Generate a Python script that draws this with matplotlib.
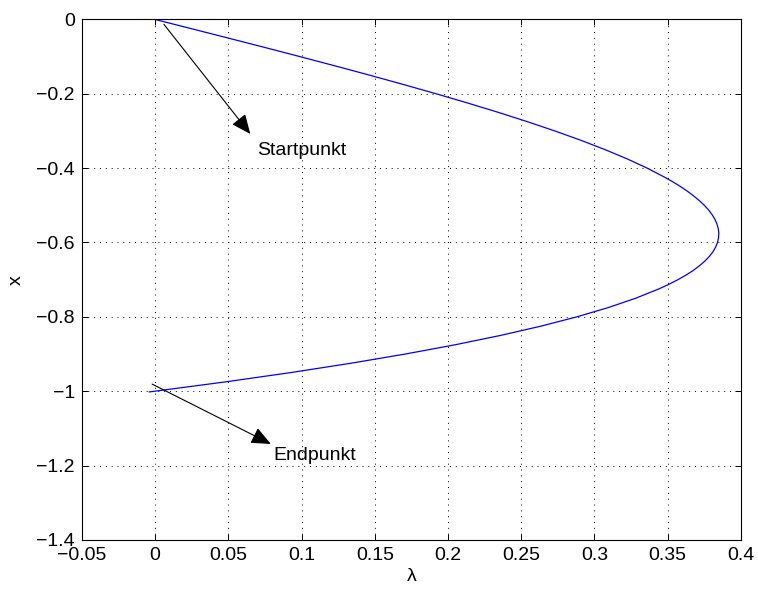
import matplotlib
matplotlib.use("Agg")
import matplotlib.pyplot as plt

# Solution branch: state x against parameter lambda
x_vals = [0.0, -0.025, -0.05, -0.075, -0.1, -0.125, -0.15, -0.175, -0.2, -0.225,
          -0.25, -0.275, -0.3, -0.325, -0.35, -0.375, -0.4, -0.425, -0.4375, -0.45,
          -0.4625, -0.475, -0.4875, -0.5, -0.5125, -0.525, -0.5375, -0.55, -0.5625,
          -0.575, -0.5875, -0.6, -0.6125, -0.625, -0.6375, -0.65, -0.6625, -0.675,
          -0.6875, -0.7, -0.7125, -0.725, -0.75, -0.775, -0.8, -0.825, -0.85,
          -0.875, -0.9, -0.925, -0.95, -0.975, -1.0, -1.002]
lam_vals = [0.0, 0.0250, 0.0499, 0.0746, 0.0990, 0.1230, 0.1466, 0.1696, 0.1920, 0.2136,
            0.2344, 0.2542, 0.2730, 0.2907, 0.3071, 0.3223, 0.3360, 0.3482, 0.3538, 0.3589,
            0.3636, 0.3678, 0.3716, 0.3750, 0.3779, 0.3803, 0.3822, 0.3836, 0.3845,
            0.3849, 0.3847, 0.3840, 0.3827, 0.3809, 0.3784, 0.3754, 0.3717, 0.3675,
            0.3626, 0.3570, 0.3508, 0.3439, 0.3281, 0.3095, 0.2880, 0.2635, 0.2359,
            0.2051, 0.1710, 0.1335, 0.0926, 0.0481, 0.0, -0.004]

x_ticks = [-0.05, 0, 0.05, 0.1, 0.15, 0.2, 0.25, 0.3, 0.35, 0.4]
x_tick_labels = ["\u22120.05", "0", "0.05", "0.1", "0.15", "0.2", "0.25", "0.3", "0.35", "0.4"]
y_ticks = [0, -0.2, -0.4, -0.6, -0.8, -1.0, -1.2, -1.4]
y_tick_labels = ["0", "\u22120.2", "\u22120.4", "\u22120.6", "\u22120.8", "\u22121", "\u22121.2", "\u22121.4"]

# Annotations: (label, arrow tail, arrow head, text position) in data units
annotations = [
    ("Startpunkt", (0.006, -0.013), (0.065, -0.308), (0.070, -0.352)),
    ("Endpunkt", (-0.002, -0.981), (0.079, -1.142), (0.081, -1.174)),
]

plt.rcParams["font.family"] = ["Liberation Sans", "DejaVu Sans"]

fig = plt.figure(figsize=(7.58, 5.90), dpi=100)
ax = fig.add_axes([0.108, 0.085, 0.8695, 0.882])

ax.plot(lam_vals, x_vals, color="#0000ff", linewidth=0.9)

ax.set_xlim(-0.05, 0.4)
ax.set_ylim(-1.4, 0)
ax.set_xticks(x_ticks)
ax.set_xticklabels(x_tick_labels)
ax.set_yticks(y_ticks)
ax.set_yticklabels(y_tick_labels)

ax.grid(True, color="black", linestyle=(0, (1, 5)), linewidth=0.7)
ax.tick_params(direction="in", length=4, width=0.7, top=True, right=True,
               labelsize=14, pad=5)
for s in ax.spines.values():
    s.set_linewidth(0.8)

ax.set_xlabel("\u03bb", fontsize=14, labelpad=3)
ax.set_ylabel("x", fontsize=14, labelpad=8)

for label, tail, head, pos in annotations:
    ax.annotate("", xy=head, xytext=tail,
                arrowprops=dict(arrowstyle="-|>,head_length=0.8,head_width=0.35",
                                color="black", linewidth=0.8,
                                shrinkA=0, shrinkB=0, mutation_scale=15))
    ax.text(pos[0], pos[1], label, fontsize=14, ha="left", va="center")

fig.savefig("out.png", dpi=100)
